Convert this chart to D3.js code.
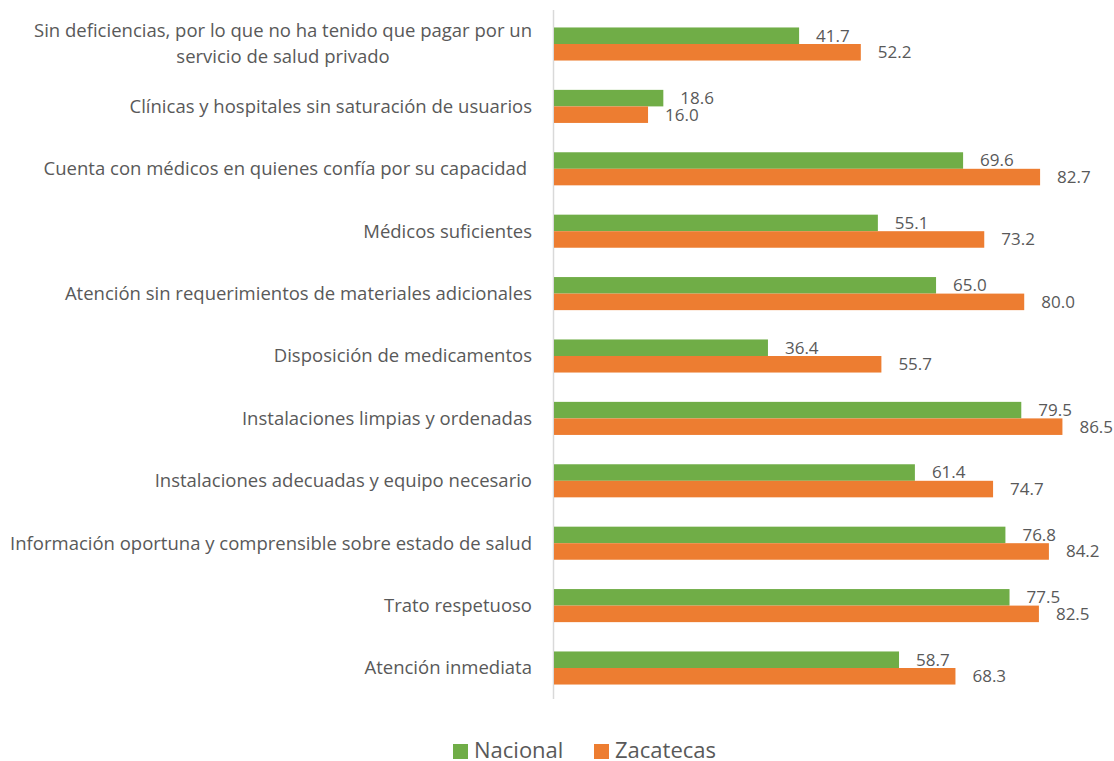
<!DOCTYPE html>
<html>
<head>
<meta charset="utf-8">
<script src="https://cdn.jsdelivr.net/npm/d3@7"></script>
<style>
  body { margin: 0; background: #fff; }
  svg text { font-family: "Open Sans", sans-serif; fill: #595959; white-space: pre; }
</style>
</head>
<body>
<svg width="1114" height="761"></svg>
<script>
const categories = [
  ["Sin deficiencias, por lo que no ha tenido que pagar por un", "servicio de salud privado"],
  ["Clínicas y hospitales sin saturación de usuarios"],
  ["Cuenta con médicos en quienes confía por su capacidad "],
  ["Médicos suficientes"],
  ["Atención sin requerimientos de materiales adicionales"],
  ["Disposición de medicamentos"],
  ["Instalaciones limpias y ordenadas"],
  ["Instalaciones adecuadas y equipo necesario"],
  ["Información oportuna y comprensible sobre estado de salud"],
  ["Trato respetuoso"],
  ["Atención inmediata"]
];
const nacional  = [41.7, 18.6, 69.6, 55.1, 65.0, 36.4, 79.5, 61.4, 76.8, 77.5, 58.7];
const zacatecas = [52.2, 16.0, 82.7, 73.2, 80.0, 55.7, 86.5, 74.7, 84.2, 82.5, 68.3];
const seriesNames = ["Nacional", "Zacatecas"];
const colors = ["#70AD47", "#ED7D31"];

const svg = d3.select("svg");

const rows = categories.map((c, i) => ({ idx: i, label: c, values: [nacional[i], zacatecas[i]] }));

const y = d3.scaleBand()
  .domain(d3.range(categories.length))
  .range([12.8, 699.2])
  .paddingInner(0.47)
  .paddingOuter(0.235);

const ySub = d3.scaleBand()
  .domain([0, 1])
  .range([0, y.bandwidth()]);

const x = d3.scaleLinear()
  .domain([0, 90])
  .range([554, 1083]);

// vertical axis line
svg.append("line")
  .attr("x1", 553.5).attr("x2", 553.5)
  .attr("y1", 10).attr("y2", 699)
  .attr("stroke", "#d9d9d9")
  .attr("stroke-width", 1.5);

const group = svg.append("g").selectAll("g")
  .data(rows)
  .enter().append("g")
  .attr("transform", d => `translate(0,${y(d.idx)})`);

group.selectAll("rect")
  .data(d => d.values)
  .enter().append("rect")
  .attr("x", x(0))
  .attr("y", (v, j) => ySub(j))
  .attr("width", v => x(v) - x(0))
  .attr("height", ySub.bandwidth())
  .attr("fill", (v, j) => colors[j]);

group.selectAll("text.val")
  .data(d => d.values)
  .enter().append("text")
  .attr("class", "val")
  .attr("x", v => x(v) + 17)
  .attr("y", (v, j) => ySub(j) + ySub.bandwidth() / 2)
  .attr("dy", "0.35em")
  .attr("font-size", "17px")
  .text(v => v.toFixed(1));

// category labels (multi-line ones are centred on the first line)
const labelRight = 532;
const labels = svg.append("g").selectAll("g")
  .data(rows)
  .enter().append("g")
  .attr("transform", d => `translate(0,${y(d.idx) + y.bandwidth() / 2})`);

labels.each(function(d) {
  const g = d3.select(this);
  const n = d.label.length;
  if (n === 1) {
    g.append("text")
      .attr("text-anchor", "end")
      .attr("x", labelRight)
      .attr("dy", "0.35em")
      .attr("font-size", "18.5px")
      .text(d.label[0]);
  } else {
    const first = g.append("text")
      .attr("text-anchor", "end")
      .attr("x", labelRight)
      .attr("y", -13)
      .attr("dy", "0.35em")
      .attr("font-size", "18.5px")
      .text(d.label[0]);
    const w = first.node().getComputedTextLength();
    const cx = labelRight - w / 2;
    d.label.slice(1).forEach((t, k) => {
      g.append("text")
        .attr("text-anchor", "middle")
        .attr("x", cx)
        .attr("y", -13 + 26 * (k + 1))
        .attr("dy", "0.35em")
        .attr("font-size", "18.5px")
        .text(t);
    });
  }
});

// legend
const legend = svg.append("g");
const legendX = [453, 594];
seriesNames.forEach((name, i) => {
  legend.append("rect")
    .attr("x", legendX[i]).attr("y", 744)
    .attr("width", 15).attr("height", 15)
    .attr("fill", colors[i]);
  legend.append("text")
    .attr("x", legendX[i] + 21).attr("y", 750)
    .attr("dy", "0.35em")
    .attr("font-size", "22px")
    .text(name);
});
</script>
</body>
</html>
